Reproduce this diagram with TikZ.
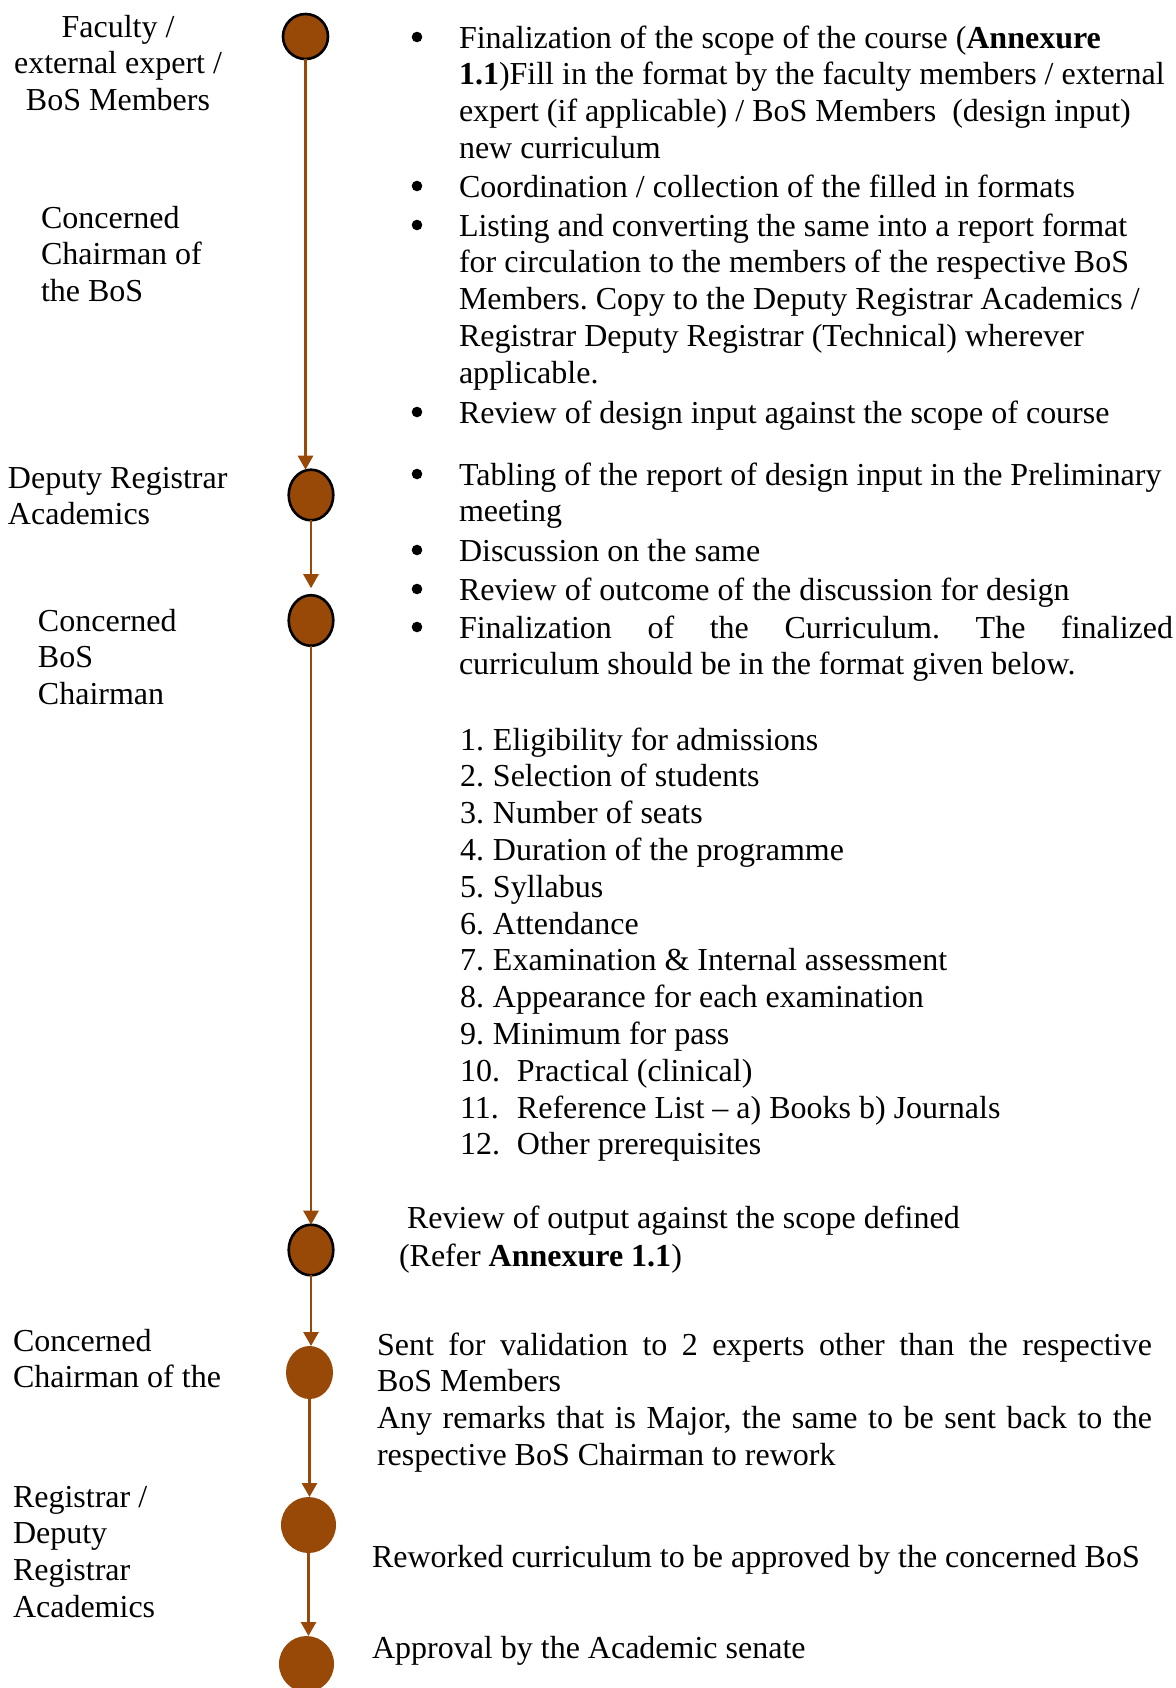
\documentclass[tikz,border=0pt]{standalone}
\usepackage{fontspec}
\setmainfont{Liberation Serif}
\usetikzlibrary{arrows.meta,shapes.geometric}
\definecolor{flowbrown}{HTML}{984807}

\begin{document}
\begin{tikzpicture}[x=0.5pt,y=-0.5pt,
  every node/.style={inner sep=0pt,outer sep=0pt},
  body/.style={font=\fontsize{16pt}{18.4pt}\selectfont\frenchspacing},
  txt/.style={body,anchor=base west,align=justify,text width=#1},
  txt/.default=200pt,
  bulletdot/.style={circle,fill=black,minimum size=5.3pt},
  ringdot/.style={ellipse,draw=black,line width=1.3pt,fill=flowbrown,
    minimum width=22.3pt,minimum height=25.3pt},
  plaindot/.style={ellipse,fill=flowbrown,
    minimum width=#1,minimum height=#1},
  flow/.style={draw=flowbrown,line width=1.4pt,
    -{Triangle[width=7.5pt,length=7pt]}}
]
\useasboundingbox (0,0) rectangle (1176,1688);

% step markers
\node[ringdot,minimum width=22.5pt,minimum height=22.5pt] (c1) at (305.5,36.5) {};
\node[ringdot] (c2) at (311,495) {};
\node[ringdot] (c3) at (311,620.5) {};
\node[ringdot] (c4) at (311,1250) {};
\node[plaindot=23.5pt,minimum height=26.5pt] (c5) at (309.5,1372.5) {};
\node[plaindot=27.5pt,minimum height=28pt] (c6) at (308.5,1525) {};
\node[plaindot=27.5pt,minimum height=28pt] (c7) at (306.5,1664) {};

% connectors
\draw[flow] (c1.south) -- (c1.south |- c2.north);
\draw[flow,shorten >=3.5pt] (c2.south) -- (c2.south |- c3.north);
\draw[flow] (c3.south) -- (c3.south |- c4.north);
\draw[flow] (c4.south) -- (c4.south |- c5.north);
\draw[flow] (c5.south) -- (c5.south |- c6.north);
\draw[flow] (c6.south) -- (c6.south |- c7.north);

% responsible parties
\node[txt=110pt,anchor=base] (lab1) at (118,37)
  {\centering Faculty /\\external expert /\\BoS Members\par};
\node[txt=115pt] (lab2) at (41,228) {Concerned\\Chairman of\\the BoS};
\node[txt=125pt] (lab3) at (8,488) {Deputy Registrar\\Academics};
\node[txt=115pt] (lab4) at (38,631) {Concerned\\BoS\\Chairman};
\node[txt=125pt] (lab5) at (13,1351) {Concerned\\Chairman of the};
\node[txt=120pt] (lab6) at (13,1507) {Registrar /\\Deputy\\Registrar\\Academics};

% bullet marks
\foreach \y [count=\i] in {48,197,236,423,485,561,600,638}
  \node[bulletdot] (b\i) at (417,\y-11) {};

% activities
\node[txt=358pt] (i1) at (459,48)
  {\mbox{Finalization of the scope of the course (\textbf{Annexure}}\\
   \mbox{\textbf{1.1})Fill in the format by the faculty members / external}\\
   \mbox{expert (if applicable) / BoS Members\ \ (design input)}\\
   new curriculum};
\node[txt=358pt] (i2) at (459,197) {Coordination / collection of the filled in formats};
\node[txt=358pt] (i3) at (459,236)
  {\mbox{Listing and converting the same into a report format}\\
   \mbox{for circulation to the members of the respective BoS}\\
   \mbox{Members. Copy to the Deputy Registrar Academics /}\\
   \mbox{Registrar Deputy Registrar (Technical) wherever}\\
   applicable.};
\node[txt=358pt] (i4) at (459,423) {Review of design input against the scope of course};
\node[txt=358pt] (i5) at (459,485)
  {\mbox{Tabling of the report of design input in the Preliminary}\\meeting};
\node[txt=358pt] (i6) at (459,561) {Discussion on the same};
\node[txt=358pt] (i7) at (459,600) {Review of outcome of the discussion for design};
\node[txt=358pt] (i8) at (459,638)
  {\makebox[357pt][s]{Finalization of the Curriculum. The finalized}\\
   curriculum should be in the format given below.};

% curriculum format
\node[txt=300pt] (fmt) at (460,750)
  {\makebox[16.5pt][l]{1.}Eligibility for admissions\\
   \makebox[16.5pt][l]{2.}Selection of students\\
   \makebox[16.5pt][l]{3.}Number of seats\\
   \makebox[16.5pt][l]{4.}Duration of the programme\\
   \makebox[16.5pt][l]{5.}Syllabus\\
   \makebox[16.5pt][l]{6.}Attendance\\
   \makebox[16.5pt][l]{7.}Examination \& Internal assessment\\
   \makebox[16.5pt][l]{8.}Appearance for each examination\\
   \makebox[16.5pt][l]{9.}Minimum for pass\\
   \makebox[28.5pt][l]{10.}Practical (clinical)\\
   \makebox[28.5pt][l]{11.}Reference List -- a) Books b) Journals\\
   \makebox[28.5pt][l]{12.}Other prerequisites};

\node[txt=300pt] (rev) at (407,1228) {Review of output against the scope defined};
\node[txt=300pt] (refer) at (399,1266) {(Refer \textbf{Annexure 1.1})};

\node[txt=388pt] (sent) at (377,1355)
  {\makebox[387.5pt][s]{Sent for validation to 2 experts other than the respective}\\
   BoS Members\\
   \makebox[387.5pt][s]{Any remarks that is Major, the same to be sent back to the}\\
   respective BoS Chairman to rework};

\node[txt=395pt] (rework) at (372,1567) {Reworked curriculum to be approved by the concerned BoS};
\node[txt=300pt] (senate) at (372,1658) {Approval by the Academic senate};
\end{tikzpicture}
\end{document}
